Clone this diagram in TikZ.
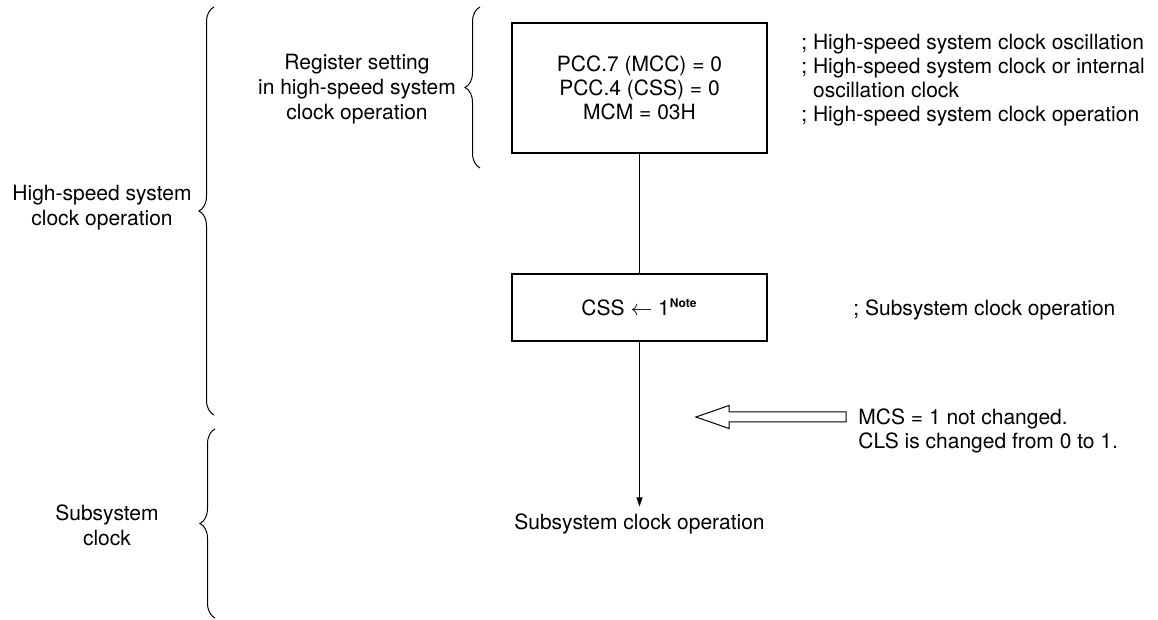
\documentclass[tikz,border=0pt]{standalone}
\usepackage{fontspec}
\setmainfont{TeX Gyre Heros}
\usetikzlibrary{arrows.meta,decorations.pathreplacing}

\begin{document}
\begin{tikzpicture}[x=0.5pt,y=-0.5pt,
  every node/.style={font=\fontsize{10.5}{12.5}\selectfont},
  tight/.style={font=\fontsize{10.5}{12}\selectfont},
  regbox/.style={draw, tight, line width=1.1pt, minimum width=127.5pt, inner sep=0pt, align=center},
  txt/.style={align=center, inner sep=0pt},
  remark/.style={tight, align=left, anchor=west, inner sep=0pt},
  grpbrace/.style={decorate, decoration={brace, amplitude=7.5pt}, line width=0.5pt},
  flow/.style={line width=0.5pt},
  hollow/.style={draw, fill=white, line width=0.5pt}]
\useasboundingbox (0,0) rectangle (1158,620);

% Group labels on the left
\node[txt] (hsop) at (102,208) {High-speed system\\clock operation};
\node[txt] (subclk) at (107,525) {Subsystem\\clock};
\node[txt] (regset) at (357,89) {Register setting\\in high-speed system\\clock operation};

% Braces
\draw[grpbrace] (214,415) -- (214,7);
\draw[grpbrace] (215,618) -- (215,429);
\draw[grpbrace] (480,168) -- (480,7);

% Register setting boxes
\node[regbox, minimum height=65pt] (reg) at (639.5,88)
  {PCC.7 (MCC) = 0\\PCC.4 (CSS) = 0\\MCM = 03H};
\node[regbox, minimum height=33.5pt] (css) at (639.5,307.5)
  {CSS $\leftarrow$ 1\textsuperscript{\fontsize{6}{7}\selectfont\bfseries Note}};
\node[txt] (subop) at (639.5,524) {Subsystem clock operation};

% Flow
\draw[flow] (reg) -- (css);
\draw[flow, -{Triangle[length=4.5pt,width=3pt]}, shorten >=3.5pt] (css) -- (subop);

% Comments on the right
\node[remark] (rem1) at (801,80) {; High-speed system clock oscillation\\
  ; High-speed system clock or internal\\
  \phantom{;}\ oscillation clock\\
  ; High-speed system clock operation};
\node[remark] (rem2) at (853,310) {; Subsystem clock operation};
\node[remark] (chg) at (858,431) {MCS = 1 not changed.\\CLS is changed from 0 to 1.};

% Hollow arrow pointing at the flow line
\coordinate (tip) at (696,417);
\draw[hollow] (tip) -- ++(33,-11.5) -- ++(0,6.5) -- ++(117,0) -- ++(0,10)
  -- ++(-117,0) -- ++(0,6.5) -- cycle;

\end{tikzpicture}
\end{document}
